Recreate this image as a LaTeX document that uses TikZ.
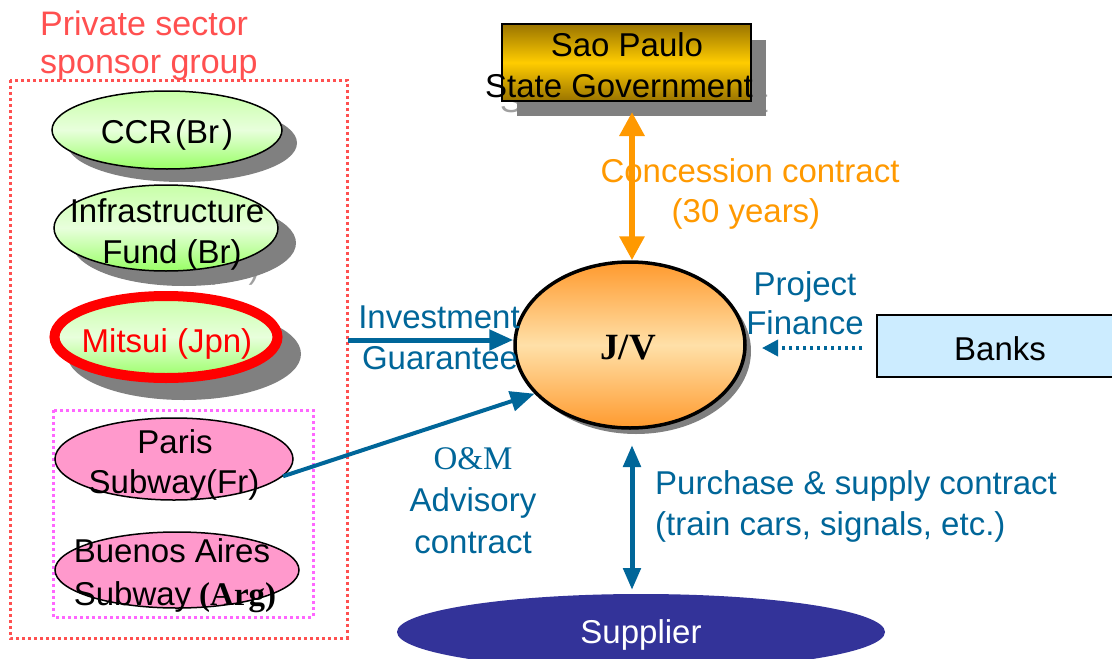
\documentclass[tikz,border=0pt]{standalone}
\usepackage{fontspec}
\setmainfont{Liberation Sans}
\newfontfamily\seriffont{Liberation Serif}
\usetikzlibrary{shapes.geometric,arrows.meta}
\definecolor{sred}{HTML}{FF5050}
\definecolor{smag}{HTML}{FF66FF}
\definecolor{sblue}{HTML}{006699}
\definecolor{sorange}{HTML}{FF9900}
\definecolor{sgray}{HTML}{808080}
\definecolor{sgrayl}{HTML}{A0A0A0}
\definecolor{gtop}{HTML}{C8FFA8}
\definecolor{gmid}{HTML}{E8FFDC}
\definecolor{gbot}{HTML}{99FF66}
\definecolor{ytop}{HTML}{9A7400}
\definecolor{ymid}{HTML}{FFCC00}
\definecolor{otop}{HTML}{FF9A2E}
\definecolor{omid}{HTML}{FFE0A8}
\definecolor{spink}{HTML}{FF99CC}
\definecolor{sbanks}{HTML}{CCECFF}
\definecolor{ssup}{HTML}{333399}
\begin{document}
\begin{tikzpicture}[x=1pt,y=-1pt,
  txt/.style={anchor=base, inner sep=0pt, font=\fontsize{33}{38}\selectfont},
  greenell/.style={ellipse, draw=black, line width=1.5pt, inner sep=0pt,
    top color=gtop, bottom color=gbot, middle color=gmid},
  pinkell/.style={ellipse, draw=black, line width=1.5pt, inner sep=0pt, fill=spink},
  bluearrow/.style={draw=sblue, line width=5pt, -{Triangle[length=24pt,width=20pt]}},
  dblue/.style={draw=sblue, line width=5pt, {Triangle[length=22pt,width=17pt]}-{Triangle[length=22pt,width=17pt]}},
  dorange/.style={draw=sorange, line width=6pt, {Triangle[length=24pt,width=24pt]}-{Triangle[length=24pt,width=24pt]}},
  dotarrow/.style={draw=sblue, line width=3.5pt, dash pattern=on 3.5pt off 3.5pt, -{Triangle[length=16pt,width=16pt]}},
  grpbox/.style={line width=3pt, dash pattern=on 3pt off 3pt}
]
\useasboundingbox[fill=white] (0,0) rectangle (1112,659);

% sponsor group
\node[txt, anchor=base west, text=sred, font=\fontsize{34}{38}\selectfont] (ps1) at (40,35) {Private sector};
\node[txt, anchor=base west, text=sred, font=\fontsize{34}{38}\selectfont] (ps2) at (40,73) {sponsor group};
\draw[grpbox, draw=sred] (10,80) rectangle (347,638);
\draw[grpbox, draw=smag] (53,410) rectangle (313,617);

% shadows
\fill[sgray] (182,143) ellipse (115 and 39);
\node[txt, text=sgrayl] at (190,278) {Fund (Br)};
\fill[sgray] (184,243) ellipse (112 and 43);
\fill[sgray] (184,354) ellipse (117 and 46);

% CCR
\node[greenell, minimum width=230pt, minimum height=78pt] (ccr) at (167,130) {};
\node[txt] at (167,143) {CCR\hspace{3pt}(Br\hspace{3pt})};
% Infrastructure fund
\node[greenell, minimum width=224pt, minimum height=86pt] (inf) at (166,228) {};
\node[txt] at (167,222) {Infrastructure};
\node[txt] at (172,263) {Fund (Br)};
% Mitsui
\node[ellipse, draw=red, line width=10pt, inner sep=0pt, top color=gtop, bottom color=gbot, middle color=gmid,
  minimum width=223pt, minimum height=82pt] (mit) at (166,337) {};
\node[txt, text=red] at (167,352) {Mitsui (Jpn)};
% Paris
\node[pinkell, minimum width=238pt, minimum height=82pt] (paris) at (174,459) {};
\node[txt] at (175,453) {Paris};
\node[txt] at (174,493) {Subway(Fr)};
% Buenos Aires
\node[pinkell, minimum width=244pt, minimum height=76pt] (ba) at (177,570) {};
\node[txt] at (172,562) {Buenos Aires};
\node[txt] at (175,605) {Subway\hspace{8pt}{\seriffont\bfseries (Arg)}};

% Sao Paulo government
\node[txt, text=sgrayl] at (634,112) {State Government};
\fill[sgray] (517,40) rectangle (766,116);
\node[rectangle, draw=black, line width=1.5pt, minimum width=249pt, minimum height=77pt, inner sep=0pt,
  top color=ytop, bottom color=ytop, middle color=ymid] (gov) at (626.5,62.5) {};
\node[txt] at (627,56) {Sao Paulo};
\node[txt] at (619,97) {State Government};

% J/V
\fill[sgray] (636,351) ellipse (115 and 83);
\node[ellipse, draw=black, line width=3.5pt, inner sep=0pt, minimum width=230pt, minimum height=166pt,
  top color=otop, bottom color=otop, middle color=omid] (jv) at (630,345) {};
\node[txt, font=\seriffont\bfseries\fontsize{37}{40}\selectfont] at (628,359) {J/V};

% Banks
\node[rectangle, draw=black, line width=1.5pt, fill=sbanks, minimum width=243pt, minimum height=62pt,
  inner sep=0pt] (banks) at (998.5,346) {};
\node[txt] at (1000,360) {Banks};

% Supplier
\node[ellipse, fill=ssup, inner sep=0pt, minimum width=488pt, minimum height=76pt] (sup) at (641,632) {};
\node[txt, text=white] at (641,643) {Supplier};

% connectors
\coordinate (govtip) at (632,112);
\draw[dorange] (govtip) -- (govtip |- jv.north);
\node[txt, text=sorange] at (750,182) {Concession contract};
\node[txt, text=sorange] at (746,222) {(30 years)};

\coordinate (invstart) at (348,340);
\draw[bluearrow] (invstart) -- (invstart -| jv.west);
\node[txt, text=sblue] at (439,328) {Investment};
\node[txt, text=sblue] at (440,369) {Guarantee};

\draw[bluearrow, line width=4pt] (paris.-9) -- (jv.207);
\node[txt, text=sblue, font=\seriffont\fontsize{33}{38}\selectfont] at (473,469) {O\&M};
\node[txt, text=sblue] at (473,511) {Advisory};
\node[txt, text=sblue] at (473,553) {contract};

\coordinate (suptop) at (632,445);
\coordinate (supbot) at (632,590);
\draw[dblue] (suptop) -- (supbot);
\node[txt, anchor=base west, text=sblue] at (655,494) {Purchase \& supply contract};
\node[txt, anchor=base west, text=sblue] at (655,535) {(train cars, signals, etc.)};

\coordinate (bankfrom) at (862,348);
\coordinate (bankto) at (762,348);
\draw[dotarrow] (bankfrom) -- (bankto);
\node[txt, text=sblue] at (805,295) {Project};
\node[txt, text=sblue] at (805,334) {Finance};
\end{tikzpicture}
\end{document}
